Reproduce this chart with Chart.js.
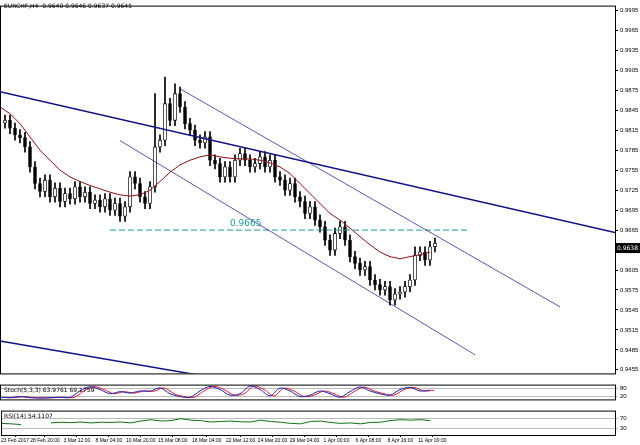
<!DOCTYPE html>
<html><head><meta charset="utf-8">
<script src="https://cdn.jsdelivr.net/npm/chart.js@4"></script>
<style>
body{margin:0;background:#fff;width:640px;height:445px;overflow:hidden;font-family:"DejaVu Sans"}
canvas{position:absolute;left:0}
</style></head><body>
<canvas id="main" style="top:0px" width="640" height="379"></canvas>
<canvas id="stoch" style="top:379px" width="640" height="26"></canvas>
<canvas id="rsi" style="top:405px" width="640" height="40"></canvas>
<script>
// datos
const titulo = "EURCHF,H4  0.9640 0.9646 0.9637 0.9645";
const cierres = [.9826,.9830,.9818,.9808,.9804,.9790,.9760,.9735,.9723,.9740,.9715,.9728,.9708,.9720,.9712,.9730,
  .9715,.9722,.9705,.9710,.9700,.9712,.9695,.9705,.9686,.9700,.9745,.9735,.9715,.9705,.9730,.9790,
  .9800,.9855,.9830,.9870,.9850,.9825,.9815,.9800,.9796,.9805,.9770,.9765,.9745,.9760,.9745,.9770,
  .9780,.9770,.9760,.9765,.9775,.9760,.9770,.9745,.9740,.9725,.9735,.9715,.9708,.9690,.9700,.9680,
  .9670,.9650,.9635,.9660,.9670,.9650,.9625,.9615,.9605,.9610,.9590,.9583,.9575,.9580,.9560,.9569,
  .9572,.9580,.9590,.9627,.9632,.9620,.9640,.9645];
const picos = {31:.9870, 33:.9895, 35:.9885, 36:.9880, 83:.9640};
const media = [.9850,.9840,.9825,.9805,.9785,.9770,.9755,.9745,.9738,.9732,.9727,.9722,.9718,.9716,.9718,.9725,
  .9738,.9752,.9763,.9770,.9775,.9778,.9775,.9773,.9772,.9772,.9770,.9766,.9760,.9750,.9735,.9720,
  .9705,.9690,.9680,.9668,.9655,.9643,.9632,.9625,.9622,.9625,.9628,.9632];
const stoch = [15,12,20,12,10,12,15,14,60,90,70,40,55,45,60,58,82,40,20,15,60,92,70,30,
  40,95,70,25,80,60,20,30,60,40,15,55,88,60,40,30,70,85,60,65];
const rsi = [50,48,45,null,null,52,55,53,56,52,55,54,56,52,60,66,60,62,70,64,62,56,58,60,
  57,56,64,58,55,50,48,58,60,54,50,52,48,54,55,62,66,64,66,62];
const fechas = ["23 Feb 2017","28 Feb 20:00","3 Mar 12:00","8 Mar 04:00","10 Mar 20:00","15 Mar 08:00","18 Mar 04:00",
  "22 Mar 12:00","24 Mar 20:00","29 Mar 04:00","1 Apr 00:00","6 Apr 08:00","8 Apr 16:00","11 Apr 00:00"];
const posFechas = [14,44,76,108,140,172,206,240,272,304,336,368,400,432];
const lineas = [
  {p:[[0,.98730],[615,.96614]], w:1.5},
  {p:[[0,.94982],[200,.94467]], w:1.5},
  {p:[[180,.98774],[560,.95496]], w:0.7},
  {p:[[120,.97995],[475,.94776]], w:0.7}
];
const nivel = 0.9665;
const precioActual = 0.9638;

const marco = {id:'marco', afterDraw(c){const a=c.chartArea,x=c.ctx;x.save();x.strokeStyle='#000';x.lineWidth=1;
  x.strokeRect(a.left+0.5,a.top+0.5,a.right-a.left,a.bottom-a.top);x.restore();}};

const velas = cierres.map((c,i)=>{const o=i?cierres[i-1]:c;return {x:i*5,y:[o,c]};});
const mechas = cierres.map((c,i)=>{const o=i?cierres[i-1]:c;
  return {x:i*5,y:[Math.min(o,c)-.0008,picos[i]||Math.max(o,c)+.0008]};});

const etiquetas = {id:'etq', afterDraw(c){const x=c.ctx,s=c.scales;x.save();
  x.font='6px "DejaVu Sans"';x.fillStyle='#000';x.fillText(titulo,4,8);
  x.fillStyle='#1a9a9a';x.font='9px "DejaVu Sans"';x.fillText('0.9665',s.x.getPixelForValue(230),s.y.getPixelForValue(nivel)-4);
  const yp=s.y.getPixelForValue(precioActual);x.fillStyle='#000';x.fillRect(c.chartArea.right+1,yp-5,24,10);
  x.fillStyle='#fff';x.font='6px "DejaVu Sans"';x.fillText(precioActual.toFixed(4),c.chartArea.right+2,yp+2);x.restore();}};

new Chart(document.getElementById('main'),{
  type:'bar',
  data:{datasets:[
    {data:mechas,backgroundColor:'#000',barThickness:1,grouped:false,order:2},
    {data:velas,backgroundColor:velas.map(v=>v.y[1]>=v.y[0]?'#fff':'#000'),borderColor:'#000',borderWidth:0.8,
      borderSkipped:false,barThickness:3,grouped:false,order:1},
    {type:'line',data:media.map((v,i)=>({x:i*10,y:v})),borderColor:'#8b1010',borderWidth:1,pointRadius:0,order:0},
    ...lineas.map(l=>({type:'line',data:l.p.map(p=>({x:p[0],y:p[1]})),borderColor:'#10108a',borderWidth:l.w,pointRadius:0,order:0})),
    {type:'line',data:[{x:110,y:nivel},{x:470,y:nivel}],borderColor:'#1a9a9a',borderDash:[6,3],borderWidth:1,pointRadius:0,order:0}
  ]},
  options:{animation:false,responsive:false,events:[],
    layout:{padding:{top:0,right:0,bottom:2}},
    plugins:{legend:{display:false},tooltip:{enabled:false}},
    scales:{
      x:{type:'linear',min:0,max:615,offset:false,display:false},
      y:{position:'right',min:.94496,max:1.00024,
        afterBuildTicks(a){a.ticks=[];for(let k=0;k<=18;k++)a.ticks.push({value:.9455+k*.003});},
        afterFit(a){a.width=25;},
        ticks:{font:{size:6},color:'#000',padding:2,callback:v=>v.toFixed(4)},
        grid:{drawOnChartArea:false,tickLength:3,color:'#000'},border:{display:false}}
    }},
  plugins:[marco,etiquetas]
});

function panel(id,series,texto,lineasNivel,abajo){
  return new Chart(document.getElementById(id),{
    type:'line',
    data:{datasets:series},
    options:{animation:false,responsive:false,events:[],
      layout:{padding:{top:0,bottom:abajo?0:1}},
      plugins:{legend:{display:false},tooltip:{enabled:false}},
      scales:{
        x:{type:'linear',min:0,max:615,display:!!abajo,
          afterBuildTicks(a){a.ticks=posFechas.map(v=>({value:v}));},
          ticks:{font:{size:5},color:'#000',maxRotation:0,autoSkip:false,padding:1,
            callback:(v,i)=>fechas[i]},
          grid:{drawOnChartArea:false,tickLength:2,color:'#000'},border:{display:false}},
        y:{position:'right',min:0,max:105,
          afterBuildTicks(a){a.ticks=lineasNivel.map(v=>({value:v}));},
          afterFit(a){a.width=25;},
          ticks:{font:{size:6},color:'#000',padding:2},
          grid:{color:'#bbb',borderDash:[2,2],tickLength:3},border:{display:false}}
      }},
    plugins:[marco,{id:'t',afterDraw(c){c.ctx.font='6px "DejaVu Sans"';c.ctx.fillStyle='#000';c.ctx.fillText(texto,4,c.chartArea.top+7);}}]
  });
}
panel('stoch',[
  {data:stoch.map((v,i)=>({x:i*10,y:v})),borderColor:'#2020c0',borderWidth:1,pointRadius:0,tension:.3},
  {data:stoch.map((v,i)=>({x:i*10+4,y:v})),borderColor:'#e02020',borderWidth:1,pointRadius:0,tension:.3}
],'Stoch(5,3,3) 63.9761 69.1759',[20,80]);
panel('rsi',[
  {data:rsi.map((v,i)=>({x:i*10,y:v})),borderColor:'#107010',borderWidth:1,pointRadius:0,spanGaps:false}
],'RSI(14) 54.1107',[30,70],true);
</script></body></html>
